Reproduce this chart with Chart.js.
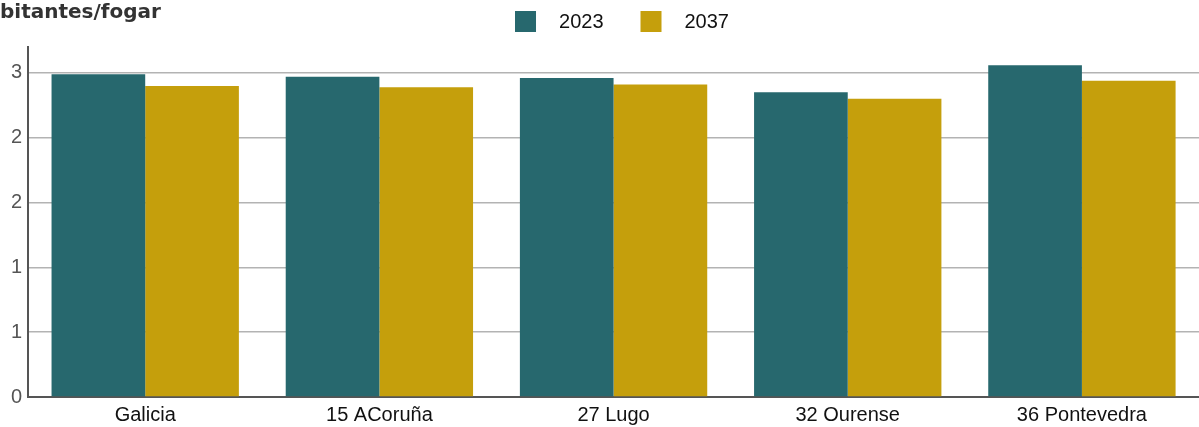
<!DOCTYPE html>
<html>
<head>
<meta charset="utf-8">
<script src="https://cdn.jsdelivr.net/npm/chart.js@4/dist/chart.umd.min.js"></script>
<style>
html,body{margin:0;padding:0;background:#fff;overflow:hidden;}
#wrap{width:1199px;height:427px;position:relative;}
</style>
</head>
<body>
<div id="wrap"><canvas id="c" width="1199" height="427"></canvas></div>
<script>
const categories = ["Galicia", "15 ACoruña", "27 Lugo", "32 Ourense", "36 Pontevedra"];
const seriesNames = ["2023", "2037"];
const values2023 = [2.49, 2.47, 2.46, 2.35, 2.56];
const values2037 = [2.40, 2.39, 2.41, 2.30, 2.44];
const seriesColors = ["#27686e", "#c59f0c"];
const titleText = "Habitantes/fogar";
const FONT = '"Liberation Sans", Arial, sans-serif';

const titleLegendPlugin = {
  id: 'titleLegend',
  afterDraw(chart) {
    const ctx = chart.ctx;
    ctx.save();
    // cut-off title
    ctx.font = 'bold 20px "DejaVu Sans"';
    ctx.fillStyle = '#333333';
    ctx.textBaseline = 'alphabetic';
    ctx.textAlign = 'left';
    const w = ctx.measureText('Ha').width;
    ctx.fillText(titleText, -w, 18);
    // legend
    ctx.font = '20px ' + FONT;
    ctx.textBaseline = 'middle';
    const box = 21, gap = 23, itemGap = 37;
    const items = chart.data.datasets.map(d => ({ label: d.label, color: d.backgroundColor, tw: ctx.measureText(d.label).width }));
    let total = 0;
    items.forEach((it, i) => { total += box + gap + it.tw + (i < items.length - 1 ? itemGap : 0); });
    let x = 622 - total / 2;
    const yTop = 11;
    items.forEach(it => {
      ctx.fillStyle = it.color;
      ctx.fillRect(x, yTop, box, box);
      ctx.fillStyle = '#111';
      ctx.fillText(it.label, x + box + gap, yTop + box / 2 + 1);
      x += box + gap + it.tw + itemGap;
    });
    ctx.restore();
  }
};

new Chart(document.getElementById('c'), {
  type: 'bar',
  data: {
    labels: categories,
    datasets: [
      { label: seriesNames[0], data: values2023, backgroundColor: seriesColors[0], categoryPercentage: 0.8, barPercentage: 1.0 },
      { label: seriesNames[1], data: values2037, backgroundColor: seriesColors[1], categoryPercentage: 0.8, barPercentage: 1.0 }
    ]
  },
  options: {
    responsive: false,
    animation: false,
    layout: { padding: { left: 5, right: 0, top: 47, bottom: -6 } },
    plugins: {
      legend: { display: false },
      tooltip: { enabled: false },
      title: { display: false }
    },
    scales: {
      x: {
        grid: { display: false, drawTicks: false },
        border: { display: true, color: '#555', width: 2 },
        ticks: { color: '#111', padding: 6, font: { family: FONT, size: 20 } }
      },
      y: {
        min: 0, max: 2.7,
        grid: { color: '#b3b3b3', lineWidth: 1.6, drawTicks: false },
        border: { display: true, color: '#555', width: 2 },
        ticks: {
          stepSize: 0.5,
          padding: 6,
          color: '#555',
          font: { family: FONT, size: 20 },
          callback: v => String(Math.round(v))
        },
        afterBuildTicks(scale) {
          scale.ticks = scale.ticks.filter(t => Math.abs(t.value / 0.5 - Math.round(t.value / 0.5)) < 1e-6);
        }
      }
    }
  },
  plugins: [titleLegendPlugin]
});
</script>
</body>
</html>
